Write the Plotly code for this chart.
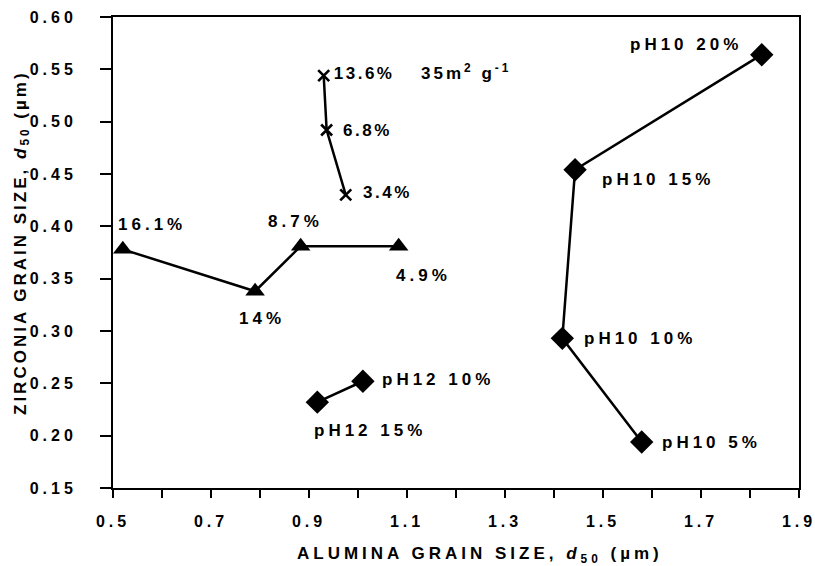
import json
import plotly.graph_objects as go

# ---- data ----
tri_x = [0.52, 0.79, 0.883, 1.083]
tri_y = [0.378, 0.338, 0.381, 0.381]
tri_labels = ["16.1%", "14%", "8.7%", "4.9%"]

cross_x = [0.930, 0.936, 0.975]
cross_y = [0.544, 0.492, 0.430]
cross_labels = ["13.6%", "6.8%", "3.4%"]
cross_note = "35m<sup>2</sup> g<sup>-1</sup>"

ph12_x = [0.917, 1.010]
ph12_y = [0.232, 0.252]
ph12_labels = ["pH12 15%", "pH12 10%"]

ph10_x = [1.824, 1.443, 1.417, 1.579]
ph10_y = [0.564, 0.454, 0.293, 0.194]
ph10_labels = ["pH10 20%", "pH10 15%", "pH10 10%", "pH10 5%"]

x_tickvals = [0.5, 0.7, 0.9, 1.1, 1.3, 1.5, 1.7, 1.9]
x_ticktext = ["0.5", "0.7", "0.9", "1.1", "1.3", "1.5", "1.7", "1.9"]
y_tickvals = [0.15, 0.20, 0.25, 0.30, 0.35, 0.40, 0.45, 0.50, 0.55, 0.60]
y_ticktext = ["0.15", "0.20", "0.25", "0.30", "0.35", "0.40", "0.45", "0.50", "0.55", "0.60"]

x_title = "ALUMINA GRAIN SIZE, <i>d</i><sub>50</sub> (µm)"
y_title = "ZIRCONIA GRAIN SIZE, <i>d</i><sub>50</sub> (µm)"

FONT = "Liberation Sans, Arial, sans-serif"
BLACK = "#000000"

fig = go.Figure()
line = dict(color=BLACK, width=2.5)
fig.add_trace(go.Scatter(x=tri_x, y=tri_y, mode="lines+markers", line=line,
                         marker=dict(symbol="triangle-up", size=17, color=BLACK)))
fig.add_trace(go.Scatter(x=cross_x, y=cross_y, mode="lines+markers", line=line,
                         marker=dict(symbol="x-thin", size=11, color=BLACK,
                                     line=dict(color=BLACK, width=2.6))))
fig.add_trace(go.Scatter(x=ph12_x, y=ph12_y, mode="lines+markers", line=line,
                         marker=dict(symbol="diamond", size=18, color=BLACK)))
fig.add_trace(go.Scatter(x=ph10_x, y=ph10_y, mode="lines+markers", line=line,
                         marker=dict(symbol="diamond", size=18, color=BLACK)))

afont = dict(family=FONT, size=17, color=BLACK, weight="bold")
spacings = []

def ann(x, y, text, xs, ys, sp):
    fig.add_annotation(x=x, y=y, text=text, showarrow=False, xshift=xs + sp / 2, yshift=ys,
                       xanchor="center", yanchor="middle", font=afont)
    spacings.append(sp)

tri_off = [(27, 25), (5, -27), (-7, 25), (23, -29)]
for x, y, t, (xs, ys) in zip(tri_x, tri_y, tri_labels, tri_off):
    ann(x, y, t, xs, ys, 4)

cross_off = [(39, 2), (40, 0), (40, 2)]
for x, y, t, (xs, ys) in zip(cross_x, cross_y, cross_labels, cross_off):
    ann(x, y, t, xs, ys, 2.5)
ann(cross_x[0], cross_y[0], cross_note, 141, 4, 3)

ph12_off = [(51, -28), (73, 2)]
for x, y, t, (xs, ys) in zip(ph12_x, ph12_y, ph12_labels, ph12_off):
    ann(x, y, t, xs, ys, 4)

ph10_off = [(-78, 10), (81, -10), (76, 0), (68, -1)]
for x, y, t, (xs, ys) in zip(ph10_x, ph10_y, ph10_labels, ph10_off):
    ann(x, y, t, xs, ys, 4)

# axis titles (as paper annotations so they can sit exactly where the reference has them)
titlefont = dict(family=FONT, size=17, color=BLACK, weight="bold")
fig.add_annotation(xref="paper", yref="paper", x=0.5, y=0, text=x_title, showarrow=False,
                   xanchor="center", yanchor="middle", xshift=24, yshift=-67, font=titlefont)
spacings.append(4)
fig.add_annotation(xref="paper", yref="paper", x=0, y=0.5, text=y_title, showarrow=False,
                   textangle=-90, xanchor="center", yanchor="middle", xshift=-92, yshift=10,
                   font=titlefont)
spacings.append(3)

tfont = dict(family=FONT, size=16, color=BLACK, weight="bold")
fig.update_xaxes(range=[0.5, 1.9], tickvals=x_tickvals, ticktext=x_ticktext,
                 ticks="outside", ticklen=8, tickwidth=2, tickcolor=BLACK,
                 ticklabelstandoff=10, automargin=False,
                 minor=dict(dtick=0.1, ticks="outside", ticklen=8, tickwidth=2, tickcolor=BLACK),
                 showline=True, linecolor=BLACK, linewidth=2, mirror=True,
                 showgrid=False, zeroline=False, tickfont=tfont)
fig.update_yaxes(range=[0.15, 0.60], tickvals=y_tickvals, ticktext=y_ticktext,
                 ticks="outside", ticklen=11, tickwidth=2, tickcolor=BLACK,
                 ticklabelstandoff=20, automargin=False,
                 showline=True, linecolor=BLACK, linewidth=2, mirror=True,
                 showgrid=False, zeroline=False, tickfont=tfont)
fig.update_layout(width=815, height=566, margin=dict(l=113, r=16, t=17, b=78),
                  paper_bgcolor="white", plot_bgcolor="white", showlegend=False)

post = """
var gd = document.getElementById('{plot_id}');
var sp = %s;
function spacing() {
  gd.querySelectorAll('.xtick text, .ytick text').forEach(function(t){ t.style.letterSpacing = '4px'; });
  gd.querySelectorAll('g.annotation').forEach(function(g){
    var i = +g.getAttribute('data-index');
    var t = g.querySelector('.annotation-text');
    if (t && sp[i] !== undefined) t.style.letterSpacing = sp[i] + 'px';
  });
}
spacing();
setTimeout(spacing, 0);
gd.on('plotly_afterplot', spacing);
""" % json.dumps(spacings)
fig.write_html("out.html", post_script=post)
